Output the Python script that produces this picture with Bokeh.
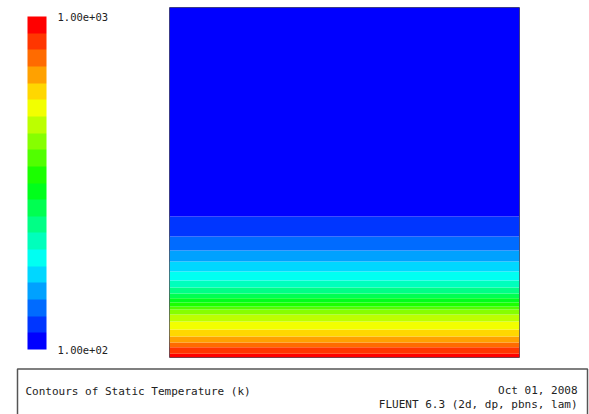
import colorsys
from bokeh.plotting import figure
from bokeh.layouts import column
from bokeh.models import (LinearColorMapper, ColorBar, FixedTicker,
                          ColumnDataSource, Range1d)
from bokeh.core.properties import value
from bokeh.embed import file_html
from bokeh.resources import INLINE

# ---------------- data ----------------
t_min, t_max = 100.0, 1000.0
n_levels = 20
# contour bands of static temperature, normalized height (0 = bottom wall, 1 = top)
band_bottom = [0.000, 0.011, 0.029, 0.043, 0.060, 0.080, 0.103, 0.123, 0.137, 0.146,
               0.157, 0.169, 0.183, 0.200, 0.220, 0.246, 0.274, 0.306, 0.346, 0.403]
band_top = [0.011, 0.029, 0.043, 0.060, 0.080, 0.103, 0.123, 0.137, 0.146, 0.157,
            0.169, 0.183, 0.200, 0.220, 0.246, 0.274, 0.306, 0.346, 0.403, 1.000]
band_temp = [977.5, 932.5, 887.5, 842.5, 797.5, 752.5, 707.5, 662.5, 617.5, 572.5,
             527.5, 482.5, 437.5, 392.5, 347.5, 302.5, 257.5, 212.5, 167.5, 122.5]
x_left, x_right = 0.0, 1.0
cb_ticks = [100, 1000]
cb_tick_labels = ["1.00e+02", "1.00e+03"]
title_text = "Contours of Static Temperature (k)"
date_text = "Oct 01, 2008"
solver_text = "FLUENT 6.3 (2d, dp, pbns, lam)"

# ---------------- palette (blue -> red rainbow) ----------------
palette = []
for i in range(n_levels):
    h = (240.0 * (1 - i / (n_levels - 1))) / 360.0
    r, g, b = colorsys.hsv_to_rgb(h, 1.0, 1.0)
    palette.append("#%02x%02x%02x" % (int(round(r * 255)), int(round(g * 255)), int(round(b * 255))))
mapper = LinearColorMapper(palette=palette, low=t_min, high=t_max)

src = ColumnDataSource(dict(bottom=band_bottom, top=band_top, temp=band_temp,
                            left=[x_left] * len(band_temp), right=[x_right] * len(band_temp)))

W = 589
H_TOP = 362
H_BOT = 414 - H_TOP

p = figure(width=W, height=H_TOP, output_backend="svg", toolbar_location=None,
           x_range=Range1d(0, 1), y_range=Range1d(0, 1),
           x_axis_location=None, y_axis_location=None,
           min_border_left=169, min_border_right=70, min_border_top=7, min_border_bottom=5)
p.frame_align = False
p.grid.visible = False
p.background_fill_color = "white"
p.border_fill_color = "white"
p.outline_line_color = "#505060"
p.outline_line_width = 1

p.quad(left="left", right="right", bottom="bottom", top="top", source=src,
       fill_color={"field": "temp", "transform": mapper}, line_color=None)

mono = "DejaVu Sans Mono"
cb = ColorBar(color_mapper=mapper, ticker=FixedTicker(ticks=cb_ticks),
              major_label_overrides=dict(zip(cb_ticks, cb_tick_labels)),
              width=19, height=333, padding=0, margin=0, location=(-142, 8),
              label_standoff=11, major_tick_line_color=None, bar_line_color=None,
              border_line_color=None, background_fill_color=None,
              major_label_text_font=mono, major_label_text_font_size="10.5px",
              major_label_text_color="#222222")
p.add_layout(cb, "center")

# ---------------- caption box (pixel-unit panel below) ----------------
q = figure(width=W, height=H_BOT, output_backend="svg", toolbar_location=None,
           x_range=Range1d(0, W), y_range=Range1d(H_BOT, 0),
           x_axis_location=None, y_axis_location=None,
           min_border=0, min_border_left=0, min_border_right=0,
           min_border_top=0, min_border_bottom=0)
q.frame_align = False
q.grid.visible = False
q.outline_line_color = None
q.background_fill_color = "white"
q.border_fill_color = "white"

q.quad(left=[17], right=[587], top=[6.5], bottom=[H_BOT + 10],
       fill_color=None, line_color="#555555", line_width=1.5)
q.text(x=[25], y=[29], text=[title_text], text_font=value(mono), text_font_size="11px",
       text_color="#222222", text_baseline="middle", text_align="left")
q.text(x=[577, 577], y=[28, 42], text=[date_text, solver_text], text_font=value(mono),
       text_font_size="11px", text_color="#222222", text_baseline="middle", text_align="right")

layout = column(p, q, spacing=0)
open("out.html", "w").write(file_html(layout, INLINE))
